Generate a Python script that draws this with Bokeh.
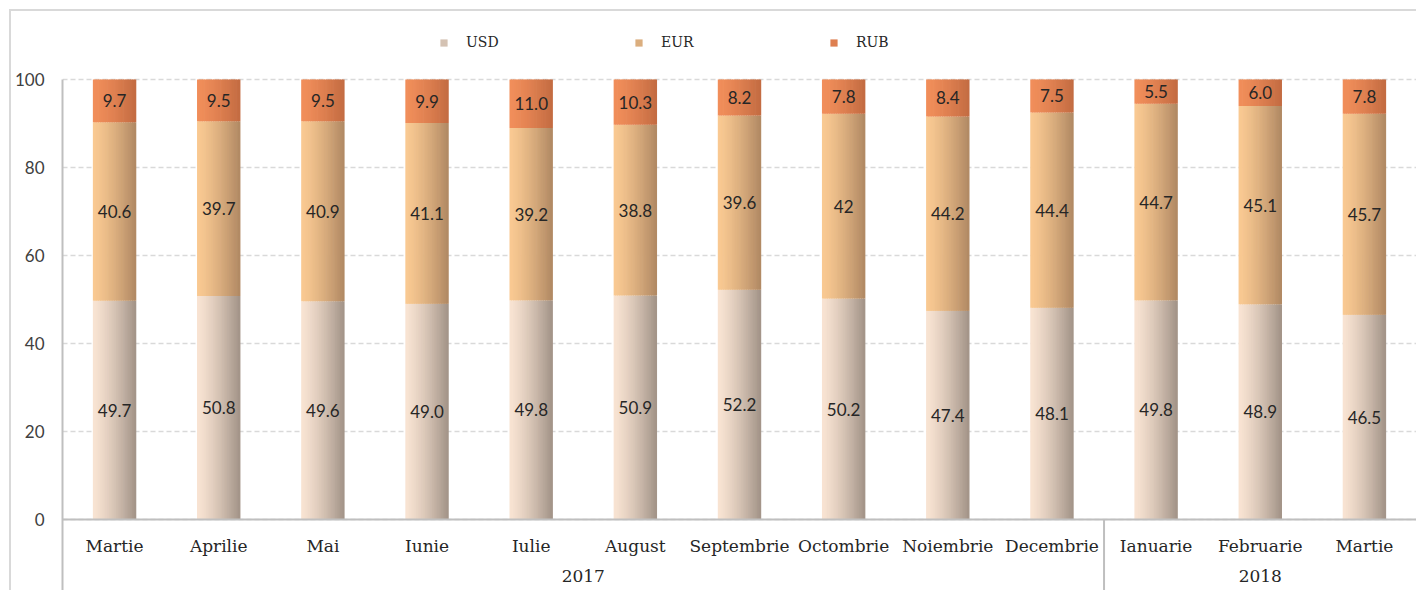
from bokeh.plotting import figure
from bokeh.models import (ColumnDataSource, FactorRange, FixedTicker, Legend, LegendItem)
from bokeh.transform import dodge
from bokeh.core.properties import value
from bokeh.embed import file_html
from bokeh.resources import INLINE

# ---------------- data ----------------
years = ["2017"] * 10 + ["2018"] * 3
months = ["Martie", "Aprilie", "Mai", "Iunie", "Iulie", "August", "Septembrie",
          "Octombrie", "Noiembrie", "Decembrie", "Ianuarie", "Februarie", "Martie"]
usd = [49.7, 50.8, 49.6, 49.0, 49.8, 50.9, 52.2, 50.2, 47.4, 48.1, 49.8, 48.9, 46.5]
eur = [40.6, 39.7, 40.9, 41.1, 39.2, 38.8, 39.6, 42, 44.2, 44.4, 44.7, 45.1, 45.7]
rub = [9.7, 9.5, 9.5, 9.9, 11.0, 10.3, 8.2, 7.8, 8.4, 7.5, 5.5, 6.0, 7.8]
series_names = ["USD", "EUR", "RUB"]
y_ticks = [0, 20, 40, 60, 80, 100]

# ---------------- styling ----------------
grad = {
    "USD": ((248, 227, 210), (164, 149, 137)),
    "EUR": ((249, 201, 146), (178, 138, 100)),
    "RUB": ((241, 142, 90), (196, 108, 66)),
}
SERIF = "DejaVu Serif"
SANS = "Lato"
TXT = "#262626"
GRID = "#d9d9d9"
AXIS = "#bfbfbf"

Y_BOTTOM = -16.14  # room below the zero line for the category labels
Y_TOP = 115.45     # room above 100 for the legend

factors = list(zip(years, months))
x_range = FactorRange(*factors, group_padding=0, factor_padding=0, range_padding=0)

p = figure(frame_width=1354, frame_height=579, x_range=x_range, y_range=(Y_BOTTOM, Y_TOP),
           output_backend="svg", toolbar_location=None,
           min_border_left=49, min_border_right=0, min_border_top=0, min_border_bottom=0,
           styles={"margin-top": "9px", "margin-left": "9px",
                   "border-left": "2px solid #d9d9d9", "border-top": "2px solid #d9d9d9"})
p.outline_line_color = None
p.background_fill_color = "white"
p.border_fill_color = "white"

# stacked data
t_eur = [u + e for u, e in zip(usd, eur)]
t_rub = [t + r for t, r in zip(t_eur, rub)]
src = ColumnDataSource(dict(
    x=factors,
    usd_b=[0] * len(usd), usd_t=usd,
    eur_b=usd, eur_t=t_eur,
    rub_b=t_eur, rub_t=t_rub,
    usd_m=[u / 2 for u in usd],
    eur_m=[u + e / 2 for u, e in zip(usd, eur)],
    rub_m=[t + r / 2 for t, r in zip(t_eur, rub)],
    usd_l=[f"{v:.1f}" for v in usd],
    eur_l=[f"{v:g}" for v in eur],
    rub_l=[f"{v:.1f}" for v in rub],
))

BAR_W = 0.41
N = 24
sw = BAR_W / N
legend_renderers = {}
for key, name in (("usd", "USD"), ("eur", "EUR"), ("rub", "RUB")):
    (r0, g0, b0), (r1, g1, b1) = grad[name]
    for i in range(N):
        t = (i / (N - 1)) ** 1.3
        col = "#%02x%02x%02x" % (round(r0 + (r1 - r0) * t), round(g0 + (g1 - g0) * t),
                                 round(b0 + (b1 - b0) * t))
        off = -BAR_W / 2 + (i + 0.5) * sw
        r = p.vbar(x=dodge("x", off, range=p.x_range), bottom=key + "_b", top=key + "_t",
                   width=sw * 1.4, source=src, fill_color=col, line_color=None)
        if i == N // 2:
            legend_renderers[name] = r

for key in ("usd", "eur", "rub"):
    p.text(x="x", y=key + "_m", text=key + "_l", source=src,
           text_font=value(SANS), text_font_size="17px", text_color=TXT,
           text_align="center", text_baseline="middle")

# separator between the year groups, below the zero line
n_first = years.count(years[0])
p.segment(x0=[n_first], x1=[n_first], y0=[0], y1=[Y_BOTTOM], line_color=AXIS, line_width=2)

# legend (inside the frame, above the 100 line)
items = [LegendItem(label=name, renderers=[legend_renderers[name]]) for name in series_names]
legend = Legend(items=items, orientation="horizontal", location=(377, 540),
                glyph_width=9, glyph_height=9, label_standoff=18, label_width=40,
                label_height=16, spacing=128, padding=0, margin=0,
                border_line_color=None, background_fill_alpha=0,
                label_text_font=SERIF, label_text_font_size="14px", label_text_color=TXT)
p.add_layout(legend)

# grid
p.xgrid.grid_line_color = None
p.ygrid.ticker = FixedTicker(ticks=y_ticks)
p.ygrid.grid_line_color = GRID
p.ygrid.grid_line_dash = "5 3"
p.ygrid.grid_line_width = 1.5

# y axis
p.yaxis.ticker = FixedTicker(ticks=y_ticks)
p.yaxis.bounds = (Y_BOTTOM, 100)
p.yaxis.axis_line_color = AXIS
p.yaxis.axis_line_width = 2
p.yaxis.major_tick_line_color = None
p.yaxis.major_tick_out = 0
p.yaxis.major_tick_in = 0
p.yaxis.minor_tick_line_color = None
p.yaxis.major_label_standoff = 18
p.yaxis.major_label_text_font = SANS
p.yaxis.major_label_text_font_size = "17px"
p.yaxis.major_label_text_color = "#404040"

# x axis drawn at the zero line
xa = p.xaxis[0]
xa.fixed_location = 0
xa.axis_line_color = AXIS
xa.axis_line_width = 2
xa.major_tick_line_color = None
xa.minor_tick_line_color = None
xa.major_label_standoff = 11
xa.major_label_text_font = SERIF
xa.major_label_text_font_size = "17px"
xa.major_label_text_color = TXT
xa.group_text_font = SERIF
xa.group_text_font_size = "17px"
xa.group_text_color = TXT
xa.group_text_font_style = "normal"
xa.separator_line_color = None

open("out.html", "w").write(file_html(p, INLINE))
